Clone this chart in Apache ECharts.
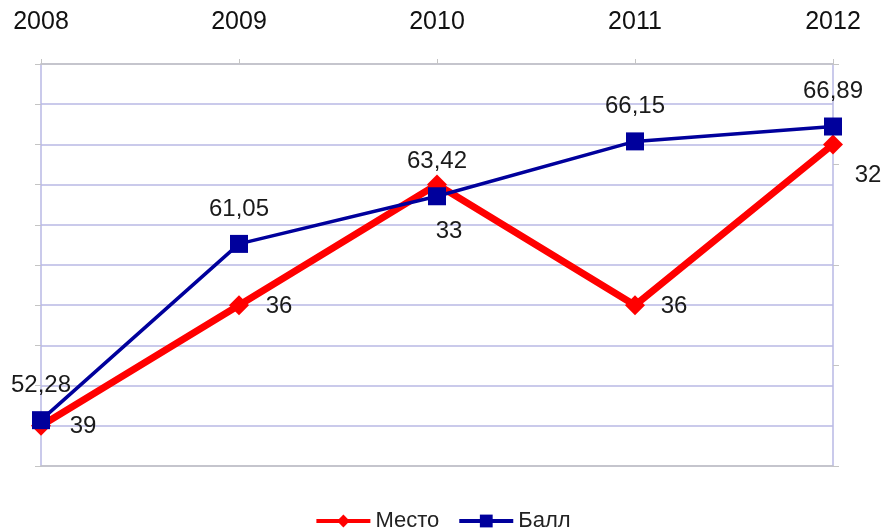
<!DOCTYPE html>
<html lang="ru" style="height: 100%">
<head>
  <meta charset="utf-8" />
  <title>Место и Балл</title>
</head>
<body style="height: 100%; margin: 0; background: #fff">
  <div id="container" style="width: 885px; height: 529px"></div>

  <script type="text/javascript" src="https://fastly.jsdelivr.net/npm/echarts@6.0.0/dist/echarts.min.js"></script>
  <script type="text/javascript">
    var years = ['2008', '2009', '2010', '2011', '2012'];
    var mesto = [39, 36, 33, 36, 32];
    var ball = [52.28, 61.05, 63.42, 66.15, 66.89];

    // label offsets for the rank points (they sit around the marker differently)
    var mestoLabelOffset = [[42, 1], [40, 1], [12, 47], [39, 1], [35, 31]];

    var dom = document.getElementById('container');
    var myChart = echarts.init(dom, null, { renderer: 'canvas' });
    var font = 'Liberation Sans, Arial, sans-serif';
    var lavender = '#b8b8e4';
    var option = {
      animation: false,
      textStyle: { fontFamily: font },
      grid: { left: 41, right: 52, top: 64, bottom: 63 },
      legend: {
        top: 505,
        left: 'center',
        itemWidth: 54,
        itemHeight: 16,
        itemGap: 18,
        textStyle: { fontSize: 22, color: '#222', fontFamily: font },
        lineStyle: { width: 4 },
        data: ['Место', 'Балл']
      },
      xAxis: [
        {
          type: 'category',
          position: 'top',
          boundaryGap: false,
          data: years,
          axisLine: { lineStyle: { color: '#c4c4c4', width: 1.5 } },
          axisTick: { show: true, length: 5, inside: false, lineStyle: { color: '#c4c4c4' } },
          axisLabel: { fontSize: 25, color: '#111', margin: 29, fontFamily: font },
          splitLine: { show: false }
        },
        {
          type: 'category',
          position: 'bottom',
          boundaryGap: false,
          data: years,
          axisLine: { lineStyle: { color: '#c4c4c4', width: 1.5 } },
          axisTick: { show: false },
          axisLabel: { show: false }
        }
      ],
      yAxis: [
        {
          type: 'value',
          min: 50,
          max: 70,
          interval: 2,
          axisLine: { show: true, lineStyle: { color: lavender, width: 1.5 } },
          axisTick: { show: true, length: 6, lineStyle: { color: '#c4c4c4' } },
          axisLabel: { show: false },
          splitLine: { lineStyle: { color: lavender, width: 1.5 } }
        },
        {
          type: 'value',
          inverse: true,
          min: 30,
          max: 40,
          interval: 2.5,
          position: 'right',
          axisLine: { show: true, lineStyle: { color: lavender, width: 1.5 } },
          axisTick: { show: true, length: 6, lineStyle: { color: '#c4c4c4' } },
          axisLabel: { show: false },
          splitLine: { show: false }
        }
      ],
      series: [
        {
          name: 'Место',
          type: 'line',
          yAxisIndex: 1,
          data: mesto.map(function (v, i) {
            return { value: v, label: { offset: mestoLabelOffset[i] } };
          }),
          symbol: 'diamond',
          symbolSize: 20,
          lineStyle: { color: '#ff0000', width: 7 },
          itemStyle: { color: '#ff0000' },
          label: {
            show: true,
            position: 'inside',
            fontSize: 24,
            color: '#1a1a1a',
            fontFamily: font
          },
          z: 2
        },
        {
          name: 'Балл',
          type: 'line',
          yAxisIndex: 0,
          data: ball,
          symbol: 'rect',
          symbolSize: 18,
          lineStyle: { color: '#00009c', width: 3.5 },
          itemStyle: { color: '#00009c' },
          label: {
            show: true,
            position: 'top',
            distance: 14,
            fontSize: 24,
            color: '#1a1a1a',
            fontFamily: font,
            formatter: function (p) {
              return p.value.toFixed(2).replace('.', ',');
            }
          },
          z: 3
        }
      ]
    };
    myChart.setOption(option);
    window.addEventListener('resize', myChart.resize);
  </script>
</body>
</html>
